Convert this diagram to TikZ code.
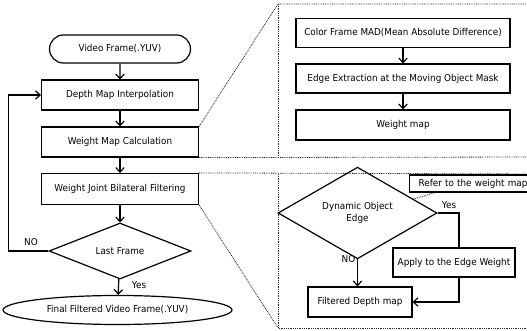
\documentclass[tikz,border=0pt]{standalone}
\usepackage{fontspec}
\setmainfont{DejaVu Sans}[FakeStretch=0.93]
\usetikzlibrary{shapes.geometric,shapes.misc,arrows.meta,calc}
\begin{document}
\begin{tikzpicture}[x=1pt,y=-1pt,
  lbl/.style={font=\fontsize{9.5}{11}\selectfont,inner sep=0pt},
  blk/.style={draw,line width=1.2pt,inner sep=0pt,font=\fontsize{9.5}{11}\selectfont,align=center},
  lbox/.style={blk,rectangle,minimum width=157pt,minimum height=30pt},
  rbox/.style={blk,rectangle,minimum width=214pt,minimum height=29pt},
  arr/.style={line width=1.2pt,-{Straight Barb[length=4.5pt,width=8.5pt]}},
  ln/.style={line width=1.2pt},
  dots/.style={line width=0.8pt,dash pattern=on 0.9pt off 0.9pt,black!85}]
\useasboundingbox (0,0) rectangle (527,331);
\clip (0,0) rectangle (527,331);
% left column
\node[blk,rounded rectangle,minimum width=141pt,minimum height=28pt] (vf) at (120,49) {Video Frame(.YUV)};
\node[lbox] (dmi) at (120,95) {Depth Map Interpolation};
\node[lbox] (wmc) at (120,142) {Weight Map Calculation};
\node[lbox,minimum height=31pt] (wjb) at (120,189) {Weight Joint Bilateral Filtering};
\node[blk,diamond,minimum width=142pt,minimum height=56pt] (lf) at (120,251) {Last Frame};
\node[blk,ellipse,minimum width=229pt,minimum height=29pt] (fin) at (117.5,310) {Final Filtered Video Frame(.YUV)};
\draw[arr] (vf) -- (dmi);
\draw[arr] (dmi) -- (wmc);
\draw[arr] (wmc) -- (wjb);
\draw[arr] (wjb) -- (lf);
\draw[arr] (lf) -- (fin);
\draw[arr] (lf.west) -- ++(-40,0) |- (dmi.west);
\node[lbl] (no1) at (31,242) {NO};
\node[lbl] (yes1) at (139,285) {Yes};
% panel 1
\coordinate (p1tl) at (278,4);
\coordinate (p1bl) at (278,157);
\draw[dots] (wmc.north east) -- (p1tl) -- (540,4);
\draw[dots] (p1tl) -- (p1bl);
\draw[dots] (wmc.south east) -- (540,157);
\node[rbox] (cf) at (403,33) {Color Frame MAD(Mean Absolute Difference)};
\node[rbox] (ee) at (403,78.5) {Edge Extraction at the Moving Object Mask};
\node[rbox,minimum height=30pt] (wm) at (403,125) {Weight map};
\draw[arr] (cf) -- (ee);
\draw[arr] (ee) -- (wm);
% panel 2
\coordinate (p2tl) at (278,174);
\coordinate (p2bl) at (278,328);
\draw[dots] (wjb.north east) -- (540,174);
\draw[dots] (p2tl) -- (p2bl) -- (540,328);
\draw[dots] (wjb.south east) -- (p2bl);
\node[blk,diamond,minimum width=159pt,minimum height=80pt] (doe) at (357.5,213) {Dynamic Object\\[1pt]Edge};
\node[blk,rectangle,anchor=west,minimum height=17pt,inner xsep=9pt,text width=112pt,align=left] (ref) at (409,183.5) {Refer to the weight map};
\coordinate (c1) at ($(doe.north)!0.7!(doe.east)$);
\coordinate (c2) at ($(ref.south west)+(26,0)$);
\draw[dots] (c1) -- (c2);
\node[blk,rectangle,minimum width=122pt,minimum height=29pt] (ap) at (454,262.5) {Apply to the Edge Weight};
\node[blk,rectangle,minimum width=104pt,minimum height=30pt] (fdm) at (360,302) {Filtered Depth map};
\draw[ln] (doe.east) -| ($(ap.north)+(5,0)$);
\draw[arr] ($(ap.south)+(5,0)$) |- (fdm.east);
\draw[arr] (doe.south) -- (doe.south |- fdm.north);
\node[lbl] (yes2) at (449,205) {Yes};
\node[lbl] (no2) at (348.5,259) {NO};
\end{tikzpicture}
\end{document}
